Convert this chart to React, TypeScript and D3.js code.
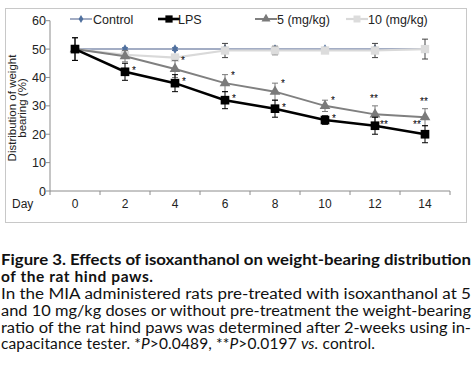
import React from "react"
import * as d3 from "d3"

// chart values
const days = ["0", "2", "4", "6", "8", "10", "12", "14"]
const controlVals = [50, 50, 50, 50, 50, 50, 50, 50]
const controlErr = [0.5, 0.5, 0.5, 0.5, 0.5, 0.5, 0.5, 0.5]
const lpsVals = [50, 42, 38, 32, 29, 25, 23, 20]
const lpsErr = [4, 3, 3, 3, 3, 1.5, 3, 3]
const mg5Vals = [50, 47.5, 43, 38, 35, 30, 27, 26]
const mg5Err = [4, 2, 3, 3, 3, 2, 3, 3]
const mg10Vals = [50, 48, 47, 49.5, 49.5, 49.5, 49.5, 50]
const mg10Err = [4, 1, 1, 2.5, 1.5, 1, 2.5, 3.5]
const lpsSig = ["", "*", "*", "*", "*", "*", "**", "**"]
const mg5Sig = ["", "", "*", "*", "*", "*", "**", "**"]
const yTicks = [0, 10, 20, 30, 40, 50, 60]

const captionTitle = [
  "Figure 3. Effects of isoxanthanol on weight-bearing distribution",
  "of the rat hind paws.",
]
const captionBody = [
  "In the MIA administered rats pre-treated with isoxanthanol at 5",
  "and 10 mg/kg doses or without pre-treatment the weight-bearing",
  "ratio of the rat hind paws was determined after 2-weeks using in-",
]

const W = 472
const H = 371

export default function App() {
  const x = d3.scaleBand().domain(days).range([50, 450])
  const cx = (d: string) => (x(d) as number) + x.bandwidth() / 2
  const y = d3.scaleLinear().domain([0, 60]).range([191, 20.7])
  const line = d3.line<number>().x((_, i) => cx(days[i])).y(v => y(v))

  const series = [
    { name: "Control", vals: controlVals, err: controlErr, stroke: "#a3adc4", mark: "#50709e", shape: d3.symbolDiamond, size: 28, width: 2 },
    { name: "10 (mg/kg)", vals: mg10Vals, err: mg10Err, stroke: "#d9d9d9", mark: "#dcdcdc", shape: d3.symbolSquare, size: 70, width: 2.2 },
    { name: "5 (mg/kg)", vals: mg5Vals, err: mg5Err, stroke: "#808080", mark: "#7a7a7a", shape: d3.symbolTriangle, size: 50, width: 2 },
    { name: "LPS", vals: lpsVals, err: lpsErr, stroke: "#000", mark: "#000", shape: d3.symbolSquare, size: 75, width: 2.6 },
  ]
  const legend = [
    { s: series[0], x0: 70, tx: 93 },
    { s: series[3], x0: 158, tx: 178 },
    { s: series[2], x0: 255, tx: 277 },
    { s: series[1], x0: 346, tx: 368 },
  ]
  const axisFont = "Liberation Sans, Arial, sans-serif"
  const capFont = "Lato, sans-serif"

  return (
    <svg width={W} height={H} style={{ position: "absolute", left: 0, top: 0, background: "#fff" }}>
      <rect x={5.5} y={8.5} width={461} height={214} fill="none" stroke="#c8c8c8" />

      {/* axes */}
      <line x1={50} x2={50} y1={y(60)} y2={y(0)} stroke="#8c8c8c" />
      <line x1={50} x2={450} y1={y(0)} y2={y(0)} stroke="#8c8c8c" />
      {yTicks.map(t => (
        <g key={t}>
          <line x1={46} x2={50} y1={y(t)} y2={y(t)} stroke="#8c8c8c" />
          <text x={46} y={y(t) + 4.5} textAnchor="end" fontSize={12.5} fontFamily={axisFont} fill="#222">{t}</text>
        </g>
      ))}
      {[...days.map(d => x(d) as number), 450].map((p, i) => (
        <line key={i} x1={p} x2={p} y1={y(0)} y2={y(0) + 4} stroke="#8c8c8c" />
      ))}
      {days.map(d => (
        <text key={d} x={cx(d)} y={208} textAnchor="middle" fontSize={12} fontFamily={axisFont} fill="#222">{d}</text>
      ))}
      <text x={12} y={208} fontSize={12} fontFamily={axisFont} fill="#222">Day</text>
      <g transform="translate(16,108) rotate(-90)" fontSize={11.5} fontFamily={axisFont} fill="#222" textAnchor="middle">
        <text y={0}>Distribution of weight</text>
        <text y={10}>bearing (%)</text>
      </g>

      {/* series */}
      {series.map(s => (
        <g key={s.name}>
          <path d={line(s.vals) as string} fill="none" stroke={s.stroke} strokeWidth={s.width} />
          {s.vals.map((v, i) => {
            const px = cx(days[i])
            return (
              <g key={i} stroke={s.name === "10 (mg/kg)" ? "#444" : s.mark} strokeWidth={1}>
                <line x1={px} x2={px} y1={y(v + s.err[i])} y2={y(v - s.err[i])} />
                <line x1={px - 3} x2={px + 3} y1={y(v + s.err[i])} y2={y(v + s.err[i])} />
                <line x1={px - 3} x2={px + 3} y1={y(v - s.err[i])} y2={y(v - s.err[i])} />
              </g>
            )
          })}
          {s.vals.map((v, i) => (
            <path key={i} transform={`translate(${cx(days[i])},${y(v)})`}
              d={d3.symbol().type(s.shape).size(s.size)() as string} fill={s.mark} />
          ))}
        </g>
      ))}

      {/* significance marks */}
      {mg5Sig.map((t, i) => t && (
        <text key={"a" + i} x={cx(days[i]) + (t === "**" ? -1 : 8)} y={y(mg5Vals[i] + mg5Err[i]) + (t === "**" ? -4 : 4)}
          textAnchor="middle" fontSize={10} fontFamily={axisFont} fill="#000">{t}</text>
      ))}
      {lpsSig.map((t, i) => t && (
        <text key={"b" + i} x={cx(days[i]) + (i === 7 ? -8 : 9)} y={y(lpsVals[i]) + (i === 7 ? -6 : 2)}
          textAnchor="middle" fontSize={10} fontFamily={axisFont} fill="#000">{t}</text>
      ))}

      {/* legend */}
      {legend.map(({ s, x0, tx }) => (
        <g key={s.name}>
          <line x1={x0} x2={x0 + 22} y1={19} y2={19} stroke={s.stroke} strokeWidth={s.width} />
          <path transform={`translate(${x0 + 11},19)`} d={d3.symbol().type(s.shape).size(s.size * 0.7)() as string} fill={s.mark} />
          <text x={tx} y={23.5} fontSize={12.5} fontFamily={axisFont} fill="#222">{s.name}</text>
        </g>
      ))}

      {/* caption */}
      <g fontFamily={capFont} fontSize={15.5} fill="#111">
        <text x={1} y={265} fontWeight="bold" textLength={470} lengthAdjust="spacingAndGlyphs">{captionTitle[0]}</text>
        <text x={1} y={282} fontWeight="bold" textLength={152} lengthAdjust="spacing">{captionTitle[1]}</text>
        {captionBody.map((l, i) => (
          <text key={i} x={1} y={299 + i * 16.8} textLength={470} lengthAdjust="spacingAndGlyphs">{l}</text>
        ))}
        <text x={1} y={349.4} textLength={374} lengthAdjust="spacing">
          capacitance tester. *<tspan fontStyle="italic">P</tspan>&gt;0.0489, **<tspan fontStyle="italic">P</tspan>&gt;0.0197 <tspan fontStyle="italic">vs.</tspan> control.
        </text>
      </g>
    </svg>
  )
}
